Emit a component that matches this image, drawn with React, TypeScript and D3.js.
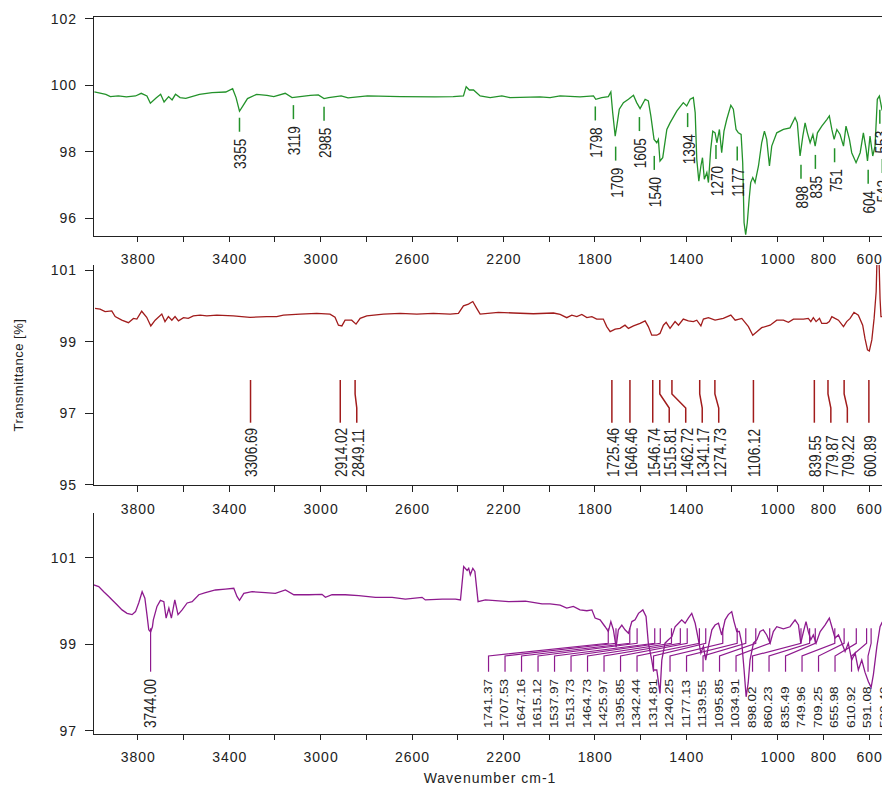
import React from "react";
import * as d3 from "d3";

type Pt = [number, number];

// ticks
const xTickValues = [3800, 3600, 3400, 3200, 3000, 2800, 2600, 2400, 2200, 2000, 1800, 1600, 1400, 1200, 1000, 800, 600];
const xTickLabels = [3800, 3400, 3000, 2600, 2200, 1800, 1400, 1000, 800, 600];
const topTicks = [96, 98, 100, 102];
const midTicks = [95, 97, 99, 101];
const lowTicks = [97, 99, 101];

// green spectrum (top)
const greenSpectrum: Pt[] = [
  [3990, 99.8], [3940, 99.73], [3920, 99.66], [3885, 99.68], [3850, 99.65], [3810, 99.68], [3785, 99.76],
  [3760, 99.68], [3745, 99.46], [3720, 99.62], [3700, 99.73], [3685, 99.5], [3665, 99.66], [3650, 99.56],
  [3635, 99.73], [3615, 99.63], [3590, 99.61], [3530, 99.73], [3475, 99.78], [3415, 99.8], [3385, 99.9],
  [3370, 99.63], [3355, 99.22], [3340, 99.38], [3320, 99.6], [3280, 99.73], [3235, 99.7], [3205, 99.66],
  [3155, 99.76], [3125, 99.63], [3090, 99.66], [3045, 99.7], [3010, 99.71], [2985, 99.6], [2965, 99.63],
  [2910, 99.68], [2880, 99.62], [2795, 99.68], [2650, 99.66], [2500, 99.65], [2420, 99.66], [2375, 99.68],
  [2363, 99.96], [2349, 99.86], [2331, 99.86], [2302, 99.68], [2258, 99.63], [2207, 99.68], [2171, 99.63],
  [2040, 99.65], [1996, 99.63], [1952, 99.68], [1865, 99.65], [1806, 99.68], [1796, 99.58], [1770, 99.63],
  [1741, 99.66], [1730, 99.8], [1722, 99.18], [1711, 98.47], [1704, 98.77], [1693, 99.28], [1675, 99.48],
  [1653, 99.58], [1631, 99.7], [1617, 99.48], [1602, 99.3], [1580, 99.58], [1566, 99.53], [1555, 99.08],
  [1541, 98.37], [1529, 98.27], [1522, 98.37], [1515, 97.72], [1503, 97.82], [1485, 98.67], [1471, 98.87],
  [1441, 99.23], [1413, 99.48], [1398, 99.38], [1383, 99.58], [1369, 99.63], [1361, 99.18], [1354, 97.77],
  [1345, 97.11], [1336, 97.57], [1329, 97.82], [1321, 97.17], [1310, 97.37], [1303, 97.07], [1293, 98.07],
  [1284, 98.62], [1274, 98.57], [1266, 98.27], [1255, 98.67], [1245, 97.97], [1235, 98.62], [1223, 98.97],
  [1205, 99.4], [1194, 99.28], [1182, 98.67], [1172, 98.57], [1160, 98.52], [1153, 97.67], [1147, 95.86],
  [1140, 95.5], [1133, 95.86], [1125, 96.56], [1118, 97.07], [1109, 97.22], [1099, 97.07], [1084, 97.57],
  [1070, 98.27], [1058, 98.62], [1048, 98.37], [1036, 97.57], [1026, 98.17], [1004, 98.57], [975, 98.67],
  [946, 98.72], [924, 99.03], [914, 98.87], [902, 97.87], [890, 98.47], [880, 98.87], [870, 98.57],
  [858, 98.27], [846, 98.52], [836, 98.17], [826, 98.57], [807, 98.77], [785, 98.97], [774, 99.08],
  [763, 98.67], [753, 98.37], [741, 98.67], [727, 98.52], [712, 98.17], [701, 98.77], [686, 98.37],
  [676, 97.97], [657, 97.67], [639, 97.97], [625, 98.57], [613, 98.07], [607, 97.72], [596, 98.47],
  [584, 97.87], [574, 98.17], [564, 99.58], [555, 99.68], [544, 99.28], [530, 99.4],
];
const greenPeaks: Pt[] = [
  [3355, 99.25], [3119, 99.63], [2985, 99.58], [1798, 99.59], [1709, 98.38], [1605, 99.27], [1540, 98.1],
  [1394, 99.39], [1270, 98.43], [1177, 98.38], [898, 97.83], [835, 98.13], [751, 98.33], [604, 97.68],
  [553, 99.49], [542, 98.01],
];

// red spectrum (middle)
const redSpectrum: Pt[] = [
  [3987, 99.93], [3965, 99.91], [3943, 99.84], [3914, 99.86], [3899, 99.7], [3870, 99.6], [3841, 99.53],
  [3819, 99.65], [3804, 99.63], [3783, 99.85], [3761, 99.68], [3743, 99.44], [3724, 99.6], [3695, 99.77],
  [3681, 99.56], [3666, 99.7], [3651, 99.6], [3637, 99.7], [3622, 99.58], [3600, 99.67], [3579, 99.65],
  [3557, 99.72], [3527, 99.74], [3498, 99.72], [3454, 99.74], [3382, 99.72], [3309, 99.68], [3236, 99.7],
  [3192, 99.7], [3163, 99.74], [3090, 99.77], [3017, 99.79], [2959, 99.77], [2937, 99.68], [2922, 99.46],
  [2907, 99.44], [2893, 99.6], [2864, 99.6], [2845, 99.49], [2827, 99.65], [2798, 99.72], [2725, 99.77],
  [2652, 99.79], [2579, 99.77], [2507, 99.79], [2433, 99.77], [2397, 99.79], [2375, 100.0], [2353, 100.05],
  [2334, 100.12], [2317, 99.93], [2302, 99.77], [2222, 99.82], [2156, 99.8], [2069, 99.78], [1981, 99.8],
  [1952, 99.76], [1923, 99.67], [1901, 99.74], [1879, 99.7], [1857, 99.76], [1835, 99.67], [1813, 99.7],
  [1792, 99.63], [1763, 99.63], [1748, 99.42], [1733, 99.28], [1711, 99.35], [1690, 99.37], [1668, 99.46],
  [1653, 99.37], [1631, 99.44], [1602, 99.51], [1580, 99.58], [1566, 99.42], [1551, 99.18], [1529, 99.18],
  [1515, 99.23], [1500, 99.46], [1488, 99.54], [1471, 99.37], [1449, 99.56], [1434, 99.46], [1413, 99.63],
  [1391, 99.58], [1369, 99.56], [1354, 99.6], [1336, 99.44], [1325, 99.63], [1303, 99.67], [1274, 99.6],
  [1238, 99.65], [1205, 99.74], [1186, 99.6], [1157, 99.65], [1128, 99.42], [1109, 99.18], [1091, 99.28],
  [1070, 99.39], [1033, 99.46], [1004, 99.6], [975, 99.6], [953, 99.54], [931, 99.63], [887, 99.63],
  [866, 99.65], [855, 99.56], [844, 99.67], [832, 99.56], [817, 99.65], [807, 99.51], [785, 99.51],
  [774, 99.56], [763, 99.7], [749, 99.65], [734, 99.6], [712, 99.42], [698, 99.56], [683, 99.65],
  [666, 99.82], [647, 99.74], [628, 99.46], [618, 99.09], [607, 98.77], [599, 98.74], [588, 99.05],
  [578, 99.65], [569, 100.4], [565, 101.4], [557, 101.4], [552, 100.2], [548, 99.7], [530, 99.7],
];
const redPeaks = [
  3306.69, 2914.02, 2849.11, 1725.46, 1646.46, 1546.74, 1515.81, 1462.72, 1341.17, 1274.73, 1106.12,
  839.55, 779.87, 709.22, 600.89,
];

// purple spectrum (bottom)
const purpleSpectrum: Pt[] = [
  [3993, 100.37], [3971, 100.33], [3949, 100.21], [3927, 100.1], [3912, 100.02], [3891, 99.91], [3869, 99.79],
  [3847, 99.71], [3825, 99.68], [3810, 99.75], [3796, 99.95], [3781, 100.21], [3769, 100.06], [3759, 99.64],
  [3752, 99.33], [3744, 99.28], [3736, 99.4], [3732, 99.56], [3716, 99.87], [3701, 100.01], [3686, 99.98],
  [3676, 99.6], [3664, 99.83], [3653, 99.6], [3638, 100.02], [3624, 99.68], [3606, 99.79], [3584, 99.95],
  [3562, 99.98], [3533, 100.14], [3504, 100.19], [3460, 100.25], [3417, 100.27], [3380, 100.29], [3366, 100.1],
  [3355, 100.01], [3336, 100.17], [3300, 100.21], [3242, 100.19], [3198, 100.17], [3154, 100.25], [3117, 100.14],
  [3052, 100.14], [2994, 100.15], [2979, 100.08], [2950, 100.14], [2892, 100.14], [2833, 100.12], [2760, 100.08],
  [2687, 100.08], [2629, 100.04], [2556, 100.08], [2542, 100.02], [2468, 100.04], [2410, 100.04], [2388, 100.02],
  [2374, 100.79], [2359, 100.7], [2352, 100.75], [2345, 100.6], [2334, 100.75], [2325, 100.68], [2311, 99.98],
  [2279, 100.02], [2177, 99.98], [2104, 99.99], [2031, 99.93], [1996, 99.93], [1952, 99.9], [1923, 99.83],
  [1894, 99.87], [1865, 99.79], [1835, 99.77], [1813, 99.79], [1799, 99.6], [1777, 99.56], [1755, 99.4],
  [1741, 99.29], [1730, 99.52], [1719, 99.33], [1707, 98.93], [1697, 99.33], [1682, 99.44], [1668, 99.33],
  [1653, 99.25], [1638, 99.52], [1624, 99.56], [1609, 99.71], [1590, 99.79], [1576, 99.64], [1566, 99.02],
  [1551, 98.63], [1544, 98.4], [1529, 98.4], [1515, 97.86], [1507, 98.63], [1493, 99.02], [1478, 99.1],
  [1463, 99.17], [1449, 99.4], [1434, 99.48], [1420, 99.56], [1405, 99.48], [1391, 99.6], [1376, 99.71],
  [1361, 99.48], [1347, 99.1], [1336, 98.79], [1325, 98.95], [1315, 98.63], [1303, 98.95], [1288, 99.33],
  [1274, 99.44], [1259, 99.48], [1245, 99.21], [1230, 99.56], [1216, 99.68], [1201, 99.75], [1191, 99.52],
  [1179, 99.29], [1168, 99.29], [1157, 99.02], [1147, 98.4], [1138, 97.78], [1129, 98.1], [1121, 98.63],
  [1106, 99.02], [1091, 99.1], [1077, 99.29], [1063, 99.33], [1048, 99.21], [1033, 99.02], [1019, 99.29],
  [1004, 99.4], [975, 99.35], [946, 99.4], [924, 99.56], [909, 99.44], [899, 99.02], [887, 99.29],
  [876, 99.52], [866, 99.29], [855, 99.1], [844, 99.21], [832, 99.02], [814, 99.29], [793, 99.44],
  [774, 99.6], [763, 99.4], [749, 99.14], [734, 99.21], [719, 99.02], [705, 98.83], [691, 99.02],
  [676, 98.63], [661, 98.79], [647, 98.4], [632, 98.63], [618, 98.35], [603, 98.13], [591, 98.0],
  [581, 98.3], [566, 98.94], [552, 99.4], [543, 99.5], [530, 99.6],
];
const purplePeaks = [
  3744.0, 1741.37, 1707.53, 1647.16, 1615.12, 1537.97, 1513.73, 1464.73, 1425.97, 1395.85, 1342.44,
  1314.81, 1240.25, 1177.13, 1139.55, 1095.85, 1034.91, 898.02, 860.23, 835.49, 749.96, 709.25,
  655.98, 610.92, 591.08, 532.4,
];

const W = 882;
const H = 786;
const LEFT = 93;
const FONT = "'Liberation Sans', Arial, Helvetica, sans-serif";
const INK = "#222";
const GREEN = "#23922a";
const RED = "#a11c1c";
const PURPLE = "#8e1a8e";

const x = d3.scaleLinear().domain([3996, 400]).range([LEFT, LEFT + 3596 * 0.22853]);

const p1 = { top: 16, bottom: 236, y: d3.scaleLinear().domain([95.46, 102.09]).range([236, 16]) };
const p2 = { top: 265, bottom: 485.7, y: d3.scaleLinear().domain([94.98, 101.14]).range([485.7, 265]) };
const p3 = { top: 513, bottom: 734, y: d3.scaleLinear().domain([96.92, 102.03]).range([734, 513]) };

// push labels apart left-to-right / right-to-left
const spreadRight = (xs: number[], gap: number) => {
  const out: number[] = [];
  xs.forEach((v, i) => out.push(i ? Math.max(v, out[i - 1] + gap) : v));
  return out;
};
const spreadLeft = (xs: number[], gap: number) => {
  const out: number[] = new Array(xs.length);
  for (let i = xs.length - 1; i >= 0; i--) {
    out[i] = i === xs.length - 1 ? xs[i] : Math.min(xs[i], out[i + 1] - gap);
  }
  return out;
};

const Axes = ({ top, bottom, y, ticks, border }: any) => (
  <g fontFamily={FONT} fill={INK} fontSize={14} letterSpacing={1}>
    <g stroke={INK} shapeRendering="crispEdges">
      <line x1={LEFT} x2={LEFT} y1={top} y2={bottom} />
      <line x1={LEFT} x2={W} y1={bottom} y2={bottom} />
      {border && <line x1={LEFT} x2={W} y1={top} y2={top} />}
      {ticks.map((t: number) => (
        <line key={t} x1={LEFT - 8} x2={LEFT} y1={y(t)} y2={y(t)} />
      ))}
      {xTickValues.map((t) => (
        <line key={t} x1={x(t)} x2={x(t)} y1={bottom} y2={bottom + 6} />
      ))}
    </g>
    {ticks.map((t: number) => (
      <text key={t} x={LEFT - 16} y={y(t)} dy="0.36em" textAnchor="end">{t}</text>
    ))}
    {xTickLabels.map((t) => (
      <text key={t} x={x(t) + 0.5} y={bottom + 28} textAnchor="middle">{t}</text>
    ))}
  </g>
);

const Curve = ({ data, panel, color, id }: any) => {
  const line = d3.line<Pt>().x((d) => x(d[0])).y((d) => panel.y(d[1]));
  return (
    <g>
      <clipPath id={id}>
        <rect x={LEFT} y={panel.top} width={W - LEFT} height={panel.bottom - panel.top} />
      </clipPath>
      <path d={line(data) || ""} fill="none" stroke={color} strokeWidth={1.3} clipPath={`url(#${id})`} />
    </g>
  );
};

export default function App() {
  const redX = spreadRight(redPeaks.map((w) => x(w)), 16.5);
  const purpleX = spreadLeft(purplePeaks.map((w) => x(w)), 16.5);
  const t2 = p2.top + 115;
  const t3 = p3.top + 115.3;

  return (
    <svg width={W} height={H} style={{ position: "absolute", left: 0, top: 0, background: "#fff" }}>
      <rect width={W} height={H} fill="#fff" />

      <Curve data={greenSpectrum} panel={p1} color={GREEN} id="c1" />
      <Curve data={redSpectrum} panel={p2} color={RED} id="c2" />
      <Curve data={purpleSpectrum} panel={p3} color={PURPLE} id="c3" />

      <Axes {...p1} ticks={topTicks} border />
      <Axes {...p2} ticks={midTicks} />
      <Axes {...p3} ticks={lowTicks} />

      {/* top panel peak marks */}
      <g fontFamily={FONT} fill={INK} fontSize={17}>
        {greenPeaks.map(([w, v]) => {
          const px = x(w);
          const t = p1.y(v) + 7.5;
          return (
            <g key={w}>
              <line x1={px} x2={px} y1={t} y2={t + 14} stroke={GREEN} strokeWidth={1.5} />
              <text transform={`translate(${px + 1},${t + 21}) rotate(-90) scale(0.8,1)`} textAnchor="end" dy="0.35em">
                {w}
              </text>
            </g>
          );
        })}
      </g>

      {/* middle panel peak marks */}
      <g fontFamily={FONT} fill={INK} fontSize={17}>
        {redPeaks.map((w, i) => {
          const px = x(w);
          const lx = redX[i];
          const d = Math.abs(lx - px) < 0.5
            ? `M${px},${t2}V${t2 + 42.7}`
            : `M${px},${t2}V${t2 + 14}L${lx},${t2 + 28}V${t2 + 42.7}`;
          return (
            <g key={w}>
              <path d={d} fill="none" stroke={RED} strokeWidth={1.5} />
              <text transform={`translate(${lx + 1},${p2.top + 212}) rotate(-90) scale(0.8,1)`} dy="0.35em">
                {w.toFixed(2)}
              </text>
            </g>
          );
        })}
      </g>

      {/* bottom panel peak marks */}
      <g fontFamily={FONT} fill={INK} fontSize={17}>
        {purplePeaks.map((w, i) => {
          const px = x(w);
          const lx = purpleX[i];
          const dense = (i > 0 && lx - purpleX[i - 1] < 20) || (i < purpleX.length - 1 && purpleX[i + 1] - lx < 20);
          const d = `M${px},${t3}V${t3 + 15}L${lx},${t3 + 27.7}V${t3 + 43.4}`;
          return (
            <g key={w}>
              <path d={d} fill="none" stroke={PURPLE} strokeWidth={1.2} />
              <text
                transform={`translate(${lx - 1},${p3.top + 215}) rotate(-90) scale(0.8,${dense ? 0.68 : 1})`}
                dy="0.35em"
              >
                {w.toFixed(2)}
              </text>
            </g>
          );
        })}
      </g>

      <text
        transform="translate(18,375) rotate(-90)"
        textAnchor="middle"
        dy="0.35em"
        fontFamily={FONT}
        fontSize={13}
        letterSpacing={0.5}
        fill={INK}
      >
        Transmittance [%]
      </text>
      <text x={490} y={783} textAnchor="middle" fontFamily={FONT} fontSize={14} letterSpacing={1} fill={INK}>
        Wavenumber cm-1
      </text>
    </svg>
  );
}
